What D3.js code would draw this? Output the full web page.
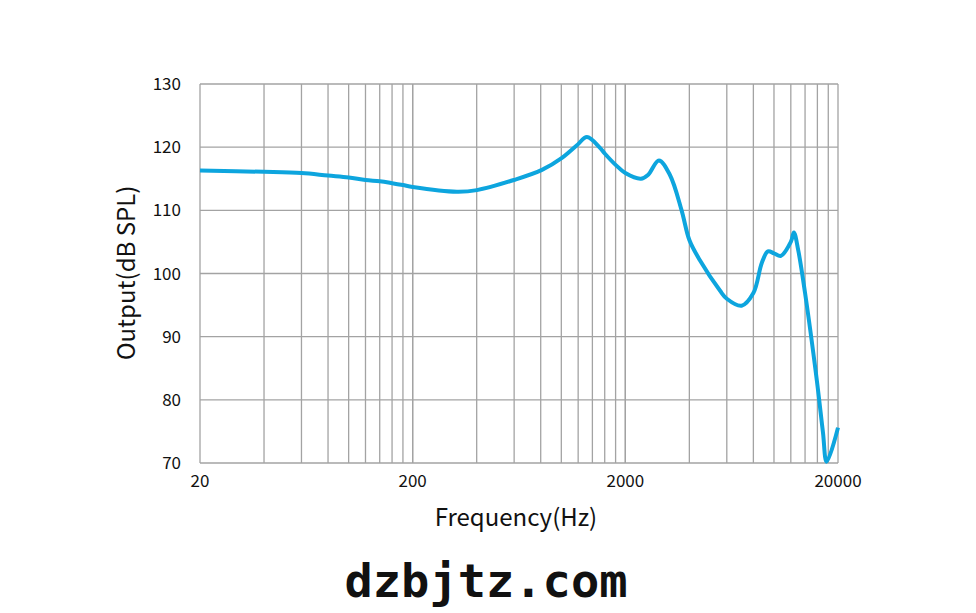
<!DOCTYPE html>
<html>
<head>
<meta charset="utf-8">
<script src="https://cdn.jsdelivr.net/npm/d3@7"></script>
<style>
  body { margin: 0; background: #fff; }
  svg text { font-family: "Noto Sans CJK SC", "Noto Sans", sans-serif; fill: #111; }
</style>
</head>
<body>
<svg id="chart" width="976" height="613"></svg>
<script>
// frequency response
var freqs = [20, 40, 60, 80, 100, 120, 140, 160, 180, 200, 323, 401, 598, 811, 1007, 1184, 1320,
  1520, 1600, 1800, 2000, 2368, 2555, 2876, 3242, 3678, 4000, 4484, 5570, 6000, 7043, 8000,
  8770, 9363, 10000, 10780, 12000, 12405, 13000, 14000, 15900, 17000, 17700, 20000];
var levels = [116.3, 116.1, 115.9, 115.5, 115.2, 114.8, 114.6, 114.3, 114.0, 113.7, 112.95, 113.2, 114.8, 116.4, 118.3, 120.3, 121.6,
  119.9, 119.0, 117.2, 115.9, 115.0, 115.6, 117.9, 115.6, 110.0, 105.3, 102.1, 97.3, 96.0, 94.9, 96.9,
  101.7, 103.5, 103.2, 102.8, 105.0, 106.5, 103.7, 96.9, 83.1, 74.8, 70.2, 75.6];

var xTicks = [20, 200, 2000, 20000];
var yTicks = [70, 80, 90, 100, 110, 120, 130];
var xGrid = [];
[20, 200, 2000].forEach(function(d){
  for (var m = 2; m <= 20; m += 2) xGrid.push(d * m / 2);
});

var svg = d3.select("#chart");
var x = d3.scaleLog().domain([20, 20000]).range([200, 838]);
var y = d3.scaleLinear().domain([70, 130]).range([463, 84]);

// grid
svg.append("g").selectAll("line").data(xGrid).enter().append("line")
  .attr("x1", d => x(d)).attr("x2", d => x(d))
  .attr("y1", y(70)).attr("y2", y(130))
  .attr("stroke", "#a3a3a3").attr("stroke-width", 1.3);
svg.append("g").selectAll("line").data(yTicks).enter().append("line")
  .attr("x1", x(20)).attr("x2", x(20000))
  .attr("y1", d => y(d)).attr("y2", d => y(d))
  .attr("stroke", "#a3a3a3").attr("stroke-width", 1.3);

// tick labels
svg.append("g").selectAll("text").data(yTicks).enter().append("text")
  .attr("x", 181).attr("y", d => y(d) + 6)
  .attr("text-anchor", "end").attr("font-size", 17)
  .text(d => d);
svg.append("g").selectAll("text").data(xTicks).enter().append("text")
  .attr("x", d => x(d)).attr("y", 487)
  .attr("text-anchor", "middle").attr("font-size", 17)
  .text(d => d);

// axis titles
svg.append("text").attr("x", 516).attr("y", 526)
  .attr("text-anchor", "middle").attr("font-size", 24)
  .text("Frequency(Hz)");
svg.append("text").attr("transform", "translate(135,273) rotate(-90)")
  .attr("text-anchor", "middle").attr("font-size", 24)
  .text("Output(dB SPL)");

// curve
var pts = freqs.map((f, i) => [f, levels[i]]);
var line = d3.line()
  .x(d => x(d[0])).y(d => y(d[1]))
  .curve(d3.curveCatmullRom.alpha(0.5));
svg.append("path").datum(pts)
  .attr("d", line)
  .attr("fill", "none")
  .attr("stroke", "#0da5de")
  .attr("stroke-width", 4)
  .attr("stroke-linejoin", "round");

// watermark
svg.append("text").attr("x", 486).attr("y", 597)
  .attr("text-anchor", "middle")
  .style("font-family", "'DejaVu Sans Mono', monospace")
  .attr("font-size", 47).attr("font-weight", "bold")
  .text("dzbjtz.com");
</script>
</body>
</html>
